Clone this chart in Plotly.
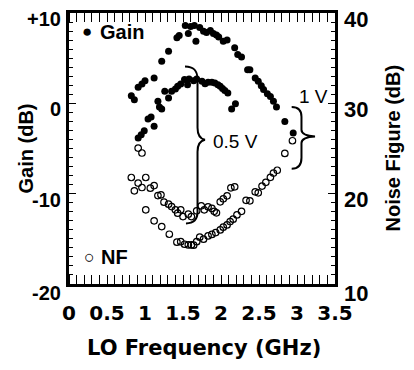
import plotly.graph_objects as go

# ---------------- data ----------------
freq_gain_1v = [0.82, 0.86, 0.91, 0.96, 1.00, 1.12, 1.22, 1.31, 1.42, 1.45,
                1.53, 1.57, 1.60, 1.65, 1.67, 1.72, 1.77, 1.81, 1.86, 1.90,
                1.94, 1.97, 2.03, 2.08, 2.18, 2.22, 2.27, 2.35, 2.38, 2.45,
                2.49, 2.53, 2.56, 2.61, 2.65, 2.69, 2.73, 2.84, 2.95]
gain_1v = [0.85, 0.41, 1.77, 2.15, 2.51, 2.81, 4.65, 5.76, 7.25, 7.50,
           8.61, 7.73, 8.50, 8.61, 6.87, 8.39, 7.98, 7.84, 8.06, 7.73,
           7.56, 7.34, 6.87, 7.01, 6.14, 5.40, 5.14, 3.73, 3.73, 2.81,
           2.44, 1.96, 1.52, 1.07, 0.77, 0.22, -0.40, -2.00, -3.29]

freq_gain_05v = [0.91, 0.95, 0.99, 1.04, 1.08, 1.12, 1.17, 1.19, 1.22, 1.26,
                 1.31, 1.35, 1.40, 1.43, 1.47, 1.52, 1.56, 1.58, 1.64, 1.68,
                 1.75, 1.79, 1.83, 1.88, 1.92, 1.96, 1.99, 2.02, 2.05, 2.09,
                 2.14, 2.19]
gain_05v = [-3.84, -3.47, -3.03, -1.73, -1.51, -2.55, 0.22, -0.40, -0.62, 1.33,
            0.60, 1.33, 1.59, 1.88, 2.15, 2.63, 2.07, 2.70, 2.51, 2.70,
            2.44, 2.18, 2.33, 2.33, 2.26, 2.07, 1.88, 1.63, 1.41, 1.15,
            -0.62, -0.04]

freq_nf_05v = [0.82, 0.86, 0.91, 0.96, 1.01, 1.07, 1.12, 1.17, 1.21, 1.25,
               1.31, 1.35, 1.40, 1.43, 1.47, 1.50, 1.57, 1.61, 1.68, 1.74,
               1.78, 1.83, 1.88, 1.91, 1.94, 1.99, 2.03, 2.08, 2.13, 2.18]
nf_05v = [21.79, 20.32, 21.17, 20.68, 21.79, 20.61, 20.90, 19.79, 19.87, 19.06,
          18.84, 18.57, 18.21, 17.84, 18.21, 17.46, 17.73, 17.46, 18.10, 18.65,
          18.21, 18.54, 18.37, 18.04, 17.88, 19.10, 19.43, 19.76, 20.65, 20.76]

freq_nf_1v = [0.91, 0.96, 1.01, 1.12, 1.22, 1.32, 1.42, 1.47, 1.52, 1.57,
              1.61, 1.64, 1.68, 1.72, 1.77, 1.83, 1.88, 1.93, 1.99, 2.03,
              2.08, 2.12, 2.16, 2.21, 2.27, 2.33, 2.38, 2.45, 2.49, 2.54,
              2.59, 2.65, 2.69, 2.74, 2.84, 2.94]
nf_1v = [25.05, 24.50, 18.21, 16.99, 16.36, 15.51, 14.63, 14.69, 14.40, 14.33,
         14.33, 14.30, 14.69, 15.18, 14.96, 15.32, 15.49, 15.69, 15.99, 16.29,
         16.54, 16.91, 17.18, 17.65, 18.04, 19.26, 19.21, 20.20, 20.09, 20.84,
         21.26, 21.81, 22.28, 22.59, 24.45, 25.86]

x_ticks = [0, 0.5, 1, 1.5, 2, 2.5, 3, 3.5]
x_tick_text = ["0", "0.5", "1", "1.5", "2", "2.5", "3", "3.5"]
gain_ticks = [-20, -10, 0, 10]
gain_tick_text = ["-20", "-10", "0", "+10"]
nf_ticks = [10, 20, 30, 40]
nf_tick_text = ["10", "20", "30", "40"]

# ---------------- styling ----------------
ARIAL = "Liberation Sans, Arial, sans-serif"
WIDE = "DejaVu Sans, Liberation Sans, sans-serif"
BLACK = "black"
CLEAR = "rgba(0,0,0,0)"

filled = dict(symbol="circle", size=7, color=BLACK, line=dict(width=0))
hollow = dict(symbol="circle-open", size=6.5, color=BLACK, line=dict(width=1.2))

fig = go.Figure()
fig.add_trace(go.Scatter(x=freq_gain_1v, y=gain_1v, mode="markers", marker=filled,
                         name="Gain 1 V", showlegend=False))
fig.add_trace(go.Scatter(x=freq_gain_05v, y=gain_05v, mode="markers", marker=filled,
                         name="Gain 0.5 V", showlegend=False))
fig.add_trace(go.Scatter(x=freq_nf_1v, y=nf_1v, mode="markers", marker=hollow,
                         yaxis="y2", name="NF 1 V", showlegend=False))
fig.add_trace(go.Scatter(x=freq_nf_05v, y=nf_05v, mode="markers", marker=hollow,
                         xaxis="x2", yaxis="y2", name="NF 0.5 V", showlegend=False))

minor_x = dict(tickmode="linear", tick0=0, dtick=0.1, ticks="inside", ticklen=4,
               tickwidth=1, tickcolor=BLACK)
minor_y = dict(tickmode="linear", tick0=0, dtick=1, ticks="inside", ticklen=4,
               tickwidth=1, tickcolor=BLACK)

# the page body adds an 8 px offset, so the figure is 8 px smaller each way
fig.update_layout(
    width=406, height=362,
    margin=dict(l=61, r=79, t=5, b=86),
    paper_bgcolor="white", plot_bgcolor="white",
    showlegend=False,
    # main x axis: labels pushed down by invisible outside ticks, minor inside ticks
    xaxis=dict(range=[0, 3.5], tickmode="array", tickvals=x_ticks, ticktext=x_tick_text,
               ticks="outside", ticklen=9, tickcolor=CLEAR, automargin=False,
               showline=True, linewidth=2.5, linecolor=BLACK, mirror="allticks",
               showgrid=False, zeroline=False, minor=minor_x,
               tickfont=dict(family=WIDE, size=20, color=BLACK, weight="bold")),
    # overlay x axis: draws the visible inside major ticks (bottom and top)
    xaxis2=dict(range=[0, 3.5], matches="x", overlaying="x", side="bottom",
                tickmode="array", tickvals=x_ticks, showticklabels=False,
                ticks="inside", ticklen=7, tickwidth=1.3, tickcolor=BLACK, automargin=False,
                showline=False, mirror="ticks", showgrid=False, zeroline=False),
    yaxis=dict(range=[-20, 10], tickmode="array", tickvals=gain_ticks, showticklabels=False,
               ticks="inside", ticklen=7, tickwidth=1.3, tickcolor=BLACK, automargin=False,
               showline=True, linewidth=2.5, linecolor=BLACK,
               showgrid=False, zeroline=False, minor=minor_y),
    yaxis2=dict(range=[10, 40], tickmode="array", tickvals=nf_ticks, showticklabels=False,
                overlaying="y", side="right", automargin=False,
                ticks="inside", ticklen=7, tickwidth=1.3, tickcolor=BLACK,
                showline=True, linewidth=2.5, linecolor=BLACK,
                showgrid=False, zeroline=False, minor=minor_y),
)

# y tick labels (sit slightly below their ticks, as in the reference)
for i, (v, t) in enumerate(zip(gain_ticks, gain_tick_text)):
    fig.add_annotation(text=t, xref="paper", yref="y", x=0, y=v, xanchor="right",
                       yanchor="middle", xshift=-6, yshift=-9 if i == 0 else -6,
                       showarrow=False,
                       font=dict(family=ARIAL, size=20, color=BLACK, weight="bold"))
for i, (v, t) in enumerate(zip(nf_ticks, nf_tick_text)):
    fig.add_annotation(text=t, xref="paper", yref="y2", x=1, y=v, xanchor="left",
                       yanchor="middle", xshift=7, yshift=-9 if i == 0 else -6,
                       showarrow=False,
                       font=dict(family=ARIAL, size=22, color=BLACK, weight="bold"))

# legend keys as text annotations
fig.add_annotation(text="●", xref="paper", yref="paper",
                   x=0, y=1, xshift=18, yshift=-18.5, xanchor="center", yanchor="middle",
                   showarrow=False, font=dict(family=ARIAL, size=17, color=BLACK))
fig.add_annotation(text="Gain", xref="paper", yref="paper", x=0, y=1,
                   xshift=29, yshift=-18.5, xanchor="left", yanchor="middle", showarrow=False,
                   font=dict(family=ARIAL, size=20, color=BLACK, weight="bold"))
fig.add_annotation(text="○", xref="paper", yref="paper",
                   x=0, y=0, xshift=20, yshift=27, xanchor="center", yanchor="middle",
                   showarrow=False, font=dict(family=ARIAL, size=18, color=BLACK))
fig.add_annotation(text="NF", xref="paper", yref="paper", x=0, y=0,
                   xshift=30, yshift=27, xanchor="left", yanchor="middle", showarrow=False,
                   font=dict(family=ARIAL, size=20, color=BLACK, weight="bold"))

# axis titles
fig.add_annotation(text="Gain (dB)", xref="paper", yref="paper", x=0, y=0.5,
                   xanchor="center", yanchor="middle", xshift=-44, textangle=-90,
                   showarrow=False,
                   font=dict(family=ARIAL, size=20, color=BLACK, weight="bold"))
fig.add_annotation(text="Noise Figure (dB)", xref="paper", yref="paper", x=1, y=0.5,
                   xanchor="center", yanchor="middle", xshift=57, textangle=-90,
                   showarrow=False,
                   font=dict(family=ARIAL, size=20, color=BLACK, weight="bold"))
fig.add_annotation(text="LO Frequency (GHz)", xref="paper", yref="paper", x=0.5, y=0,
                   xanchor="center", yanchor="middle", yshift=-64, xshift=2,
                   showarrow=False,
                   font=dict(family=WIDE, size=21, color=BLACK, weight="bold"))

# braces and voltage labels
brace_05v = ("M1.526,4.07 C1.632,4.07 1.691,3.73 1.691,2.63 L1.691,-2.70 "
             "C1.691,-3.47 1.724,-3.92 1.789,-4.03 C1.724,-4.14 1.691,-4.58 1.691,-5.36 "
             "L1.691,-12.01 C1.691,-12.90 1.632,-13.29 1.539,-13.29")
brace_1v = ("M2.930,-0.40 C3.013,-0.40 3.059,-0.70 3.059,-1.48 L3.059,-2.92 "
            "C3.059,-3.36 3.105,-3.60 3.237,-3.66 C3.105,-3.72 3.059,-3.97 3.059,-4.40 "
            "L3.059,-6.03 C3.059,-6.80 3.013,-7.25 2.930,-7.25")
for p in (brace_05v, brace_1v):
    fig.add_shape(type="path", path=p, xref="x", yref="y",
                  line=dict(color=BLACK, width=2))

fig.add_annotation(text="0.5 V", x=1.87, y=-4.2, xref="x", yref="y",
                   xanchor="left", yanchor="middle", showarrow=False,
                   font=dict(family=ARIAL, size=19, color=BLACK))
fig.add_annotation(text="1 V", x=3.22, y=0.8, xref="x", yref="y",
                   xanchor="center", yanchor="middle", showarrow=False,
                   font=dict(family=ARIAL, size=19, color=BLACK))

fig.write_html("out.html")
